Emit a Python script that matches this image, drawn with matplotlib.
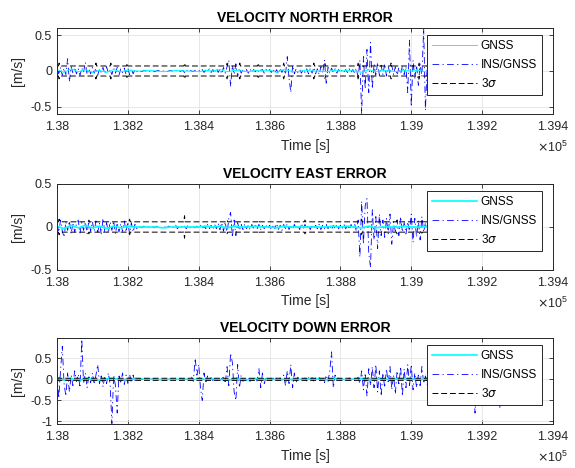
import numpy as np
import matplotlib
matplotlib.use("Agg")
import matplotlib.pyplot as plt

plt.rcParams['font.family'] = ['Liberation Sans', 'DejaVu Sans']
plt.rcParams['axes.unicode_minus'] = False

# time grids [s]
t_ins = np.arange(138000, 139270, 5)    # 254 samples, INS/GNSS output
t_gnss = np.arange(138000, 139280, 20)  # 64 samples, GNSS fixes

# INS/GNSS velocity errors [m/s], 5 s spacing (one row = 100 s)
north_ins = [
    0.02, -0.04, 0.05, -0.06, 0.04, -0.05, 0.17, -0.15, 0.06, -0.03, 0.05, -0.04, 0.03, -0.06, 0.04, -0.02, 0.12, -0.05, 0.03, -0.04,
    0.05, -0.03, 0.04, -0.06, 0.03, -0.02, 0.05, -0.04, 0.06, -0.03, 0.02, -0.05, 0.04, -0.03, 0.05, -0.06, 0.03, -0.02, 0.04, -0.05,
    0.04, -0.05, 0.03, -0.04, 0.02, -0.01, 0.01, 0.0, -0.01, 0.01, 0.0, 0.0, -0.01, 0.01, 0.0, -0.01, 0.0, 0.01, 0.0, -0.01,
    0.0, 0.01, -0.01, 0.0, 0.01, 0.0, -0.01, 0.0, 0.01, -0.01, 0.0, 0.01, -0.02, 0.02, -0.01, 0.01, 0.0, -0.01, 0.01, 0.0,
    0.01, -0.01, 0.02, -0.02, 0.01, 0.0, 0.03, -0.02, 0.02, -0.03, 0.04, -0.02, 0.03, -0.04, 0.05, -0.03, 0.06, 0.15, -0.22, 0.08,
    -0.05, 0.10, -0.08, 0.04, -0.03, 0.03, -0.02, 0.02, -0.03, 0.03, -0.02, 0.02, -0.01, 0.03, -0.02, 0.01, 0.02, -0.03, 0.02, -0.01,
    0.02, -0.02, 0.03, -0.03, 0.02, -0.04, 0.04, -0.02, 0.03, -0.05, 0.20, -0.10, -0.30, 0.08, -0.04, 0.03, -0.02, 0.02, -0.03, 0.02,
    -0.02, 0.03, -0.04, 0.04, -0.03, 0.05, -0.04, 0.03, -0.05, 0.06, -0.03, 0.15, -0.17, 0.05, -0.03, 0.04, -0.02, 0.03, -0.03, 0.02,
    -0.02, 0.02, -0.01, 0.02, -0.02, 0.03, -0.02, 0.02, -0.03, 0.04, -0.10, 0.15, -0.60, 0.20, -0.25, 0.30, -0.30, 0.40, -0.25, 0.10,
    -0.08, 0.12, -0.06, 0.08, -0.05, 0.10, -0.07, 0.06, -0.04, 0.08, -0.05, 0.06, -0.06, 0.05, -0.04, 0.07, -0.05, 0.06, -0.30, 0.43,
    -0.50, 0.15, -0.10, 0.08, -0.20, 0.10, -0.08, 0.60, -0.55, 0.10, -0.05, 0.04, -0.03, 0.03, -0.02, 0.02, -0.02, 0.01, -0.01, 0.01,
    0.0, 0.01, -0.01, 0.01, 0.0, -0.01, 0.01, 0.0, -0.01, 0.01, 0.0, 0.0, 0.01, -0.01, 0.0, 0.01, 0.0, -0.01, 0.01, 0.0,
    0.0, -0.01, 0.01, 0.0, 0.01, -0.01, 0.0, 0.01, 0.0, -0.01, 0.0, 0.01, 0.0, 0.0,
]
east_ins = [
    0.03, -0.06, 0.08, -0.05, -0.12, 0.06, -0.04, 0.07, -0.08, 0.05, -0.06, 0.04, 0.08, -0.07, 0.05, -0.04, 0.06, -0.08, 0.07, -0.05,
    0.06, -0.05, 0.07, -0.06, 0.04, -0.08, 0.10, -0.06, 0.05, -0.07, 0.06, -0.04, 0.07, -0.08, 0.05, -0.06, 0.04, -0.05, 0.07, -0.06,
    0.06, -0.08, 0.05, -0.06, 0.03, -0.02, 0.01, 0.0, -0.01, 0.01, 0.0, -0.01, 0.0, 0.01, 0.0, -0.01, 0.01, 0.0, 0.0, -0.01,
    0.01, 0.0, -0.01, 0.01, 0.0, 0.01, -0.01, 0.02, -0.02, 0.01, 0.02, -0.01, 0.01, -0.02, 0.02, -0.01, 0.01, 0.0, -0.01, 0.01,
    -0.01, 0.02, -0.02, 0.01, -0.02, 0.03, -0.02, 0.02, -0.03, 0.03, -0.02, 0.04, -0.03, 0.05, -0.05, 0.06, -0.08, 0.10, 0.17, -0.12,
    0.08, -0.10, 0.05, -0.04, 0.03, -0.03, 0.04, -0.02, 0.02, -0.03, 0.03, -0.02, 0.02, -0.02, 0.03, -0.03, 0.02, -0.02, 0.03, -0.02,
    0.02, -0.03, 0.03, -0.02, 0.04, -0.03, 0.02, -0.04, 0.03, -0.02, 0.04, -0.03, 0.02, -0.03, 0.03, -0.02, 0.02, -0.03, 0.04, -0.02,
    0.03, -0.02, 0.02, -0.03, 0.03, -0.02, 0.02, -0.02, 0.03, -0.03, 0.02, -0.02, 0.03, -0.02, 0.02, -0.03, 0.02, -0.02, 0.03, -0.02,
    0.02, -0.02, 0.03, -0.02, 0.02, -0.03, 0.03, -0.02, 0.04, -0.05, 0.08, -0.35, 0.30, -0.20, 0.25, 0.33, -0.30, -0.47, 0.20, -0.15,
    0.12, -0.25, 0.15, -0.10, 0.08, -0.12, 0.10, -0.08, 0.15, -0.20, 0.06, -0.05, 0.08, -0.10, 0.12, -0.06, 0.05, -0.08, 0.06, -0.05,
    0.15, -0.18, 0.10, -0.12, 0.08, -0.15, 0.12, -0.06, 0.05, -0.04, 0.03, -0.03, 0.02, -0.02, 0.02, -0.01, 0.01, -0.01, 0.01, 0.0,
    0.01, -0.01, 0.0, 0.01, -0.01, 0.0, 0.01, 0.0, -0.01, 0.01, 0.0, -0.01, 0.0, 0.01, 0.0, -0.01, 0.01, 0.0, 0.0, 0.01,
    0.0, -0.01, 0.01, 0.0, 0.0, 0.01, -0.01, 0.0, 0.01, 0.0, -0.01, 0.0, 0.01, 0.0,
]
down_ins = [
    0.10, -0.45, 0.20, 0.78, -0.10, -0.40, 0.15, -0.30, 0.10, -0.15, 0.20, -0.05, 0.12, -0.20, 0.95, -0.10, 0.15, -0.20, 0.10, -0.08,
    0.15, -0.12, 0.10, 0.35, -0.10, 0.12, -0.18, 0.08, -0.10, 0.15, -0.12, -1.05, 0.10, -0.15, -0.80, 0.12, -0.10, 0.15, -0.12, 0.10,
    -0.10, 0.12, -0.08, 0.10, -0.06, 0.05, -0.02, 0.01, 0.0, -0.01, 0.01, 0.0, -0.01, 0.0, 0.01, 0.0, -0.01, 0.01, 0.0, 0.0,
    0.01, 0.0, -0.01, 0.0, 0.01, 0.0, -0.01, 0.01, 0.0, -0.01, 0.01, 0.0, 0.0, -0.01, 0.01, 0.0, 0.05, -0.05, 0.50, 0.10,
    0.35, -0.20, -0.50, 0.15, -0.10, 0.08, -0.05, 0.04, -0.03, 0.03, -0.02, 0.02, -0.03, 0.02, 0.05, -0.10, 0.30, -0.15, 0.62, 0.40,
    -0.30, -0.50, 0.35, -0.20, 0.10, -0.05, 0.04, -0.03, 0.03, -0.05, 0.04, -0.02, 0.03, -0.04, 0.25, -0.20, 0.15, -0.10, 0.05, -0.03,
    0.02, -0.02, 0.03, -0.03, 0.02, -0.04, 0.03, -0.02, 0.10, -0.15, 0.20, -0.10, 0.35, -0.20, 0.15, -0.08, 0.05, -0.03, 0.02, -0.02,
    0.03, -0.04, 0.05, -0.03, 0.04, -0.05, 0.03, -0.02, 0.04, -0.03, 0.05, -0.08, 0.10, -0.05, 0.20, 0.65, -0.20, 0.10, -0.05, 0.03,
    -0.02, 0.02, -0.03, 0.02, -0.02, 0.03, -0.02, 0.02, -0.03, 0.02, 0.05, -0.10, 0.20, -0.25, 0.15, -0.40, 0.25, -0.15, 0.30, -0.20,
    0.35, -0.30, 0.20, -0.40, 0.15, -0.20, 0.25, -0.10, 0.30, -0.25, 0.10, -0.35, 0.20, -0.15, 0.30, -0.40, 0.25, -0.20, 0.35, -0.15,
    0.35, -0.25, 0.15, -0.20, 0.10, -0.15, 0.30, -0.10, 0.08, -0.12, 0.10, -0.08, 0.05, -0.06, 0.08, -0.05, 0.04, -0.06, 0.05, -0.04,
    0.05, -0.05, 0.04, -0.06, 0.05, -0.04, 0.05, -0.03, 0.04, -0.05, 0.03, -0.04, 0.05, -0.03, 0.04, -0.05, -0.80, 0.05, -0.04, 0.03,
    -0.04, 0.03, -0.05, 0.04, -0.03, 0.04, -0.05, 0.03, -0.04, 0.05, -0.68, 0.04, -0.03, 0.02,
]

# GNSS velocity errors [m/s], 20 s spacing
north_gnss = [
    0.02, -0.02, 0.03, -0.01, 0.02, -0.02, 0.01, -0.02, 0.02, -0.01,
    0.01, 0.0, 0.0, 0.01, 0.0, -0.01, 0.0, 0.01, 0.0, 0.0,
    -0.01, 0.01, 0.0, 0.02, -0.01, 0.01, 0.0, -0.01, 0.01, 0.0,
    0.01, -0.02, 0.02, 0.0, -0.01, 0.01, 0.0, 0.0, -0.01, 0.01,
    0.0, 0.01, 0.0, -0.02, 0.02, -0.01, 0.01, 0.0, -0.01, 0.01,
    0.0, 0.01, -0.01, 0.0, 0.01, 0.0, -0.01, 0.0, 0.01, 0.0,
    0.0, 0.01, 0.0, 0.0,
]
east_gnss = [
    0.01, -0.02, 0.02, -0.01, 0.02, -0.01, 0.01, -0.02, 0.01, -0.01,
    0.01, 0.0, 0.0, 0.0, 0.0, -0.01, 0.0, 0.0, 0.0, 0.0,
    0.0, 0.01, 0.0, 0.01, -0.01, 0.01, 0.0, 0.0, 0.01, 0.0,
    0.0, -0.01, 0.01, 0.0, 0.0, 0.0, 0.0, 0.0, 0.0, 0.01,
    0.0, 0.01, 0.0, -0.01, 0.01, -0.01, 0.0, 0.0, 0.0, 0.01,
    0.0, 0.0, 0.0, 0.0, 0.01, 0.0, 0.0, 0.0, 0.0, 0.0,
    0.0, 0.0, 0.0, 0.0,
]
down_gnss = [
    0.03, -0.02, 0.02, -0.03, 0.02, 0.0, -0.02, 0.01, 0.02, -0.01,
    0.0, 0.0, 0.01, 0.0, 0.0, -0.01, 0.0, 0.0, 0.01, -0.02,
    0.02, -0.01, 0.01, 0.0, -0.02, 0.01, 0.0, -0.01, 0.02, 0.0,
    0.01, -0.01, 0.0, 0.0, -0.01, 0.01, 0.0, 0.01, -0.01, 0.02,
    0.0, -0.01, 0.01, 0.02, -0.01, 0.0, 0.01, -0.01, 0.01, 0.0,
    0.01, -0.01, 0.01, 0.0, 0.0, 0.0, -0.01, 0.0, 0.0, 0.0,
    0.0, 0.0, 0.0, 0.0,
]

# 3 sigma bounds [m/s]: breakpoints (time, value), spikes where the filter reset
north_sig_t = [
    138000, 138004, 138006, 138008, 138108, 138110, 138112, 138150, 138152, 138154,
    138196, 138198, 138200, 138358, 138360, 138362, 138478, 138480, 138482, 138514,
    138516, 138518, 138566, 138568, 138570, 138638, 138640, 138642, 138723, 138725,
    138727, 138754, 138756, 138758, 138848, 138850, 138852, 138941, 138943, 138945,
    139020, 139022, 139024, 139270,
]
north_sig_v = [
    0.07, 0.07, 0.11, 0.07, 0.07, 0.11, 0.07, 0.07, 0.11, 0.07,
    0.07, 0.11, 0.07, 0.07, 0.11, 0.07, 0.07, 0.11, 0.07, 0.07,
    0.11, 0.07, 0.07, 0.11, 0.07, 0.07, 0.11, 0.07, 0.07, 0.11,
    0.07, 0.07, 0.11, 0.07, 0.07, 0.11, 0.07, 0.07, 0.11, 0.07,
    0.07, 0.11, 0.07, 0.07,
]
east_sig_t = [
    138000, 138004, 138006, 138008, 138088, 138090, 138092, 138203, 138205, 138207,
    138358, 138360, 138362, 138478, 138480, 138482, 138568, 138570, 138572, 138698,
    138700, 138702, 138858, 138860, 138862, 138958, 138960, 138962, 139028, 139030,
    139032, 139270,
]
east_sig_v = [
    0.06, 0.06, 0.09, 0.06, 0.06, 0.08, 0.06, 0.06, 0.09, 0.06,
    0.06, 0.13, 0.06, 0.06, 0.08, 0.06, 0.06, 0.08, 0.06, 0.06,
    0.08, 0.06, 0.06, 0.09, 0.06, 0.06, 0.08, 0.06, 0.06, 0.09,
    0.06, 0.06,
]
down_sig_t = [138000, 138004, 138006, 138008, 139270]
down_sig_v = [0.025, 0.025, 0.04, 0.025, 0.025]

titles = ['VELOCITY NORTH ERROR', 'VELOCITY EAST ERROR', 'VELOCITY DOWN ERROR']
x_ticks = [138000, 138200, 138400, 138600, 138800, 139000, 139200, 139400]
x_ticklabels = ['1.38', '1.382', '1.384', '1.386', '1.388', '1.39', '1.392', '1.394']
y_ticks = [[-0.5, 0, 0.5], [-0.5, 0, 0.5], [-1, -0.5, 0, 0.5]]
y_ticklabels = [['-0.5', '0', '0.5'], ['-0.5', '0', '0.5'], ['-1', '-0.5', '0', '0.5']]
y_lims = [(-0.6, 0.6), (-0.5, 0.5), (-1.06, 0.98)]

ins_all = [north_ins, east_ins, down_ins]
gnss_all = [north_gnss, east_gnss, down_gnss]
sig_all = [(north_sig_t, north_sig_v), (east_sig_t, east_sig_v), (down_sig_t, down_sig_v)]

fig = plt.figure(figsize=(5.75, 4.68), dpi=100)
bottoms = [0.7564, 0.4231, 0.0940]
gnss_lw = [0.7, 1.2, 1.2]
txt = '#262626'
dashdot = (0, (8, 4, 1.5, 4))
dashed = (0, (6, 3))

for i in range(3):
    ax = fig.add_axes([0.0991, bottoms[i], 0.8626, 0.1838])
    ins = np.array(ins_all[i])
    gnss = np.array(gnss_all[i])
    sig_t = np.array(sig_all[i][0])
    sig_v = np.array(sig_all[i][1])

    h_ins, = ax.plot(t_ins, ins, color='blue', ls=dashdot, lw=0.6)
    h_gnss, = ax.plot(t_gnss, gnss, color='cyan', ls='-', lw=gnss_lw[i])
    h_sig, = ax.plot(sig_t, sig_v, color='black', ls=dashed, lw=0.7)
    ax.plot(sig_t, -sig_v, color='black', ls=dashed, lw=0.7)

    ax.set_xlim(138000, 139400)
    ax.set_ylim(*y_lims[i])
    ax.set_xticks(x_ticks)
    ax.set_xticklabels(x_ticklabels)
    ax.set_yticks(y_ticks[i])
    ax.set_yticklabels(y_ticklabels[i])
    ax.tick_params(direction='in', top=True, right=True, length=3,
                   width=0.6, labelsize=9, colors=txt)
    ax.tick_params(axis='x', pad=5)
    ax.grid(True, color='#e3e3e3', lw=0.6)
    ax.set_axisbelow(True)
    for s in ax.spines.values():
        s.set_color(txt)
        s.set_linewidth(0.7)

    ax.set_title(titles[i], fontsize=10, fontweight='bold', pad=4, color='black')
    ax.set_xlabel('Time [s]', fontsize=10, color=txt, labelpad=4)
    ax.set_ylabel('[m/s]', fontsize=10, color=txt, labelpad=4)
    ax.text(1.03, -0.385, r'$\times\mathregular{10^{5}}$', transform=ax.transAxes,
            ha='right', va='center', fontsize=9, color=txt)

    leg = ax.legend([h_gnss, h_ins, h_sig], ['GNSS', 'INS/GNSS', r'3$\sigma$'],
                    loc='upper right', bbox_to_anchor=(0.978, 0.92),
                    fontsize=8.5, handlelength=3.8, handletextpad=0.3,
                    labelspacing=0.55, borderpad=0.45, borderaxespad=0,
                    frameon=True, fancybox=False, framealpha=1)
    leg.get_frame().set_edgecolor(txt)
    leg.get_frame().set_linewidth(0.7)

fig.savefig('out.png', dpi=100)
